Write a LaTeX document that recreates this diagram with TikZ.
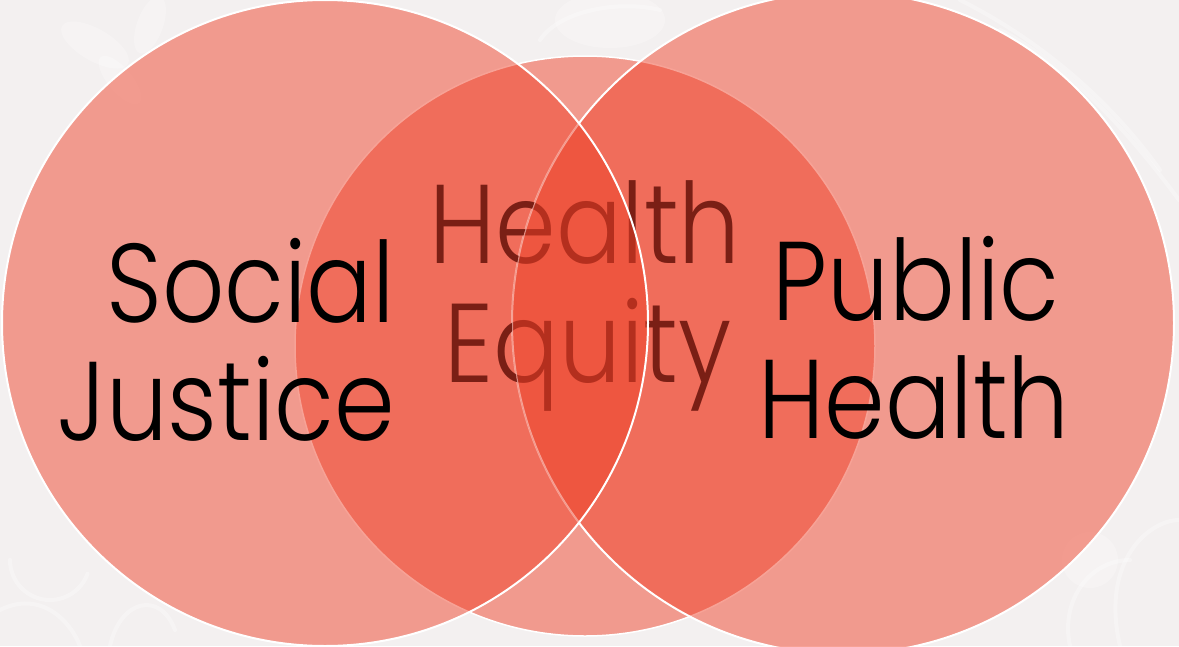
\documentclass[tikz,border=0pt]{standalone}
\usepackage{fontspec}
\setmainfont{Poppins Light}[FakeStretch=0.87]
\definecolor{bg}{RGB}{243,240,240}
\definecolor{petal}{RGB}{239,61,36}
\definecolor{lenscol}{RGB}{238,86,64}
\definecolor{eqdark}{RGB}{122,31,21}
\definecolor{eqlight}{RGB}{180,47,30}
\begin{document}
\begin{tikzpicture}[x=1pt,y=-1pt,
  disc/.style={fill=petal,fill opacity=0.48},
  rim/.style={draw=white,line width=2pt},
  swirl/.style={draw=white,opacity=0.3,line width=4pt,line cap=round},
  blob/.style={fill=white,opacity=0.25},
  word/.style={inner sep=0pt,font=\fontsize{112}{118}\selectfont},
]
\useasboundingbox (0,0) rectangle (1179,646);
% backdrop with faint ornament
\fill[bg] (0,0) rectangle (1179,646);
\fill[blob,rotate around={-30:(95,45)}] (95,45) ellipse (38 and 16);
\fill[blob,rotate around={70:(150,25)}] (150,25) ellipse (30 and 13);
\fill[blob,rotate around={-50:(120,80)}] (120,80) ellipse (30 and 12);
\draw[swirl] (10,560) arc (180:20:40);
\draw[swirl] (0,610) .. controls (40,590) and (70,620) .. (80,646);
\draw[swirl] (110,646) .. controls (120,600) and (160,590) .. (175,630);
\fill[blob] (610,20) ellipse (55 and 28);
\draw[swirl] (540,40) .. controls (560,10) and (620,0) .. (660,10);
\draw[swirl] (1000,30) .. controls (1060,60) and (1120,120) .. (1179,200);
\draw[swirl] (960,0) .. controls (1040,40) and (1110,100) .. (1160,170);
\draw[swirl] (1120,646) .. controls (1100,560) and (1150,520) .. (1179,520);
\draw[swirl] (1070,646) .. controls (1060,600) and (1090,560) .. (1130,560);
\fill[blob] (1090,560) circle (28);
% centre circle
\path[disc] (585,346) circle[radius=290];
\draw[draw=white,line width=1.5pt] (585,346) circle[radius=290];
% right circle
\path[disc] (843,323) circle[radius=331];
\draw[rim] (843,323) circle[radius=331];
% left circle
\path[disc] (325,323) circle[radius=323];
% outer labels
\node[word,anchor=base east] (sj1) at (395,322) {Social};
\node[word,anchor=base east] (sj2) at (395,440) {Justice};
\node[word,anchor=base] (ph1) at (916,320) {Public};
\node[word,anchor=base] (ph2) at (914,438) {Health};
% centre label
\node[word,anchor=base,text=eqdark] (he1) at (585,263) {Health};
\node[word,anchor=base,text=eqdark] (he2) at (588,382) {Equity};
% where all three circles overlap the label sits beneath the left disc
\begin{scope}
  \clip (325,323) circle[radius=323];
  \clip (843,323) circle[radius=331];
  \fill[lenscol] (250,0) rectangle (900,646);
  \node[word,anchor=base,text=eqlight] (he1b) at (585,263) {Health};
  \node[word,anchor=base,text=eqlight] (he2b) at (588,382) {Equity};
  \draw[draw=white,draw opacity=0.45,line width=2pt] (843,323) circle[radius=331];
\end{scope}
\draw[rim] (325,323) circle[radius=323];
\end{tikzpicture}
\end{document}
